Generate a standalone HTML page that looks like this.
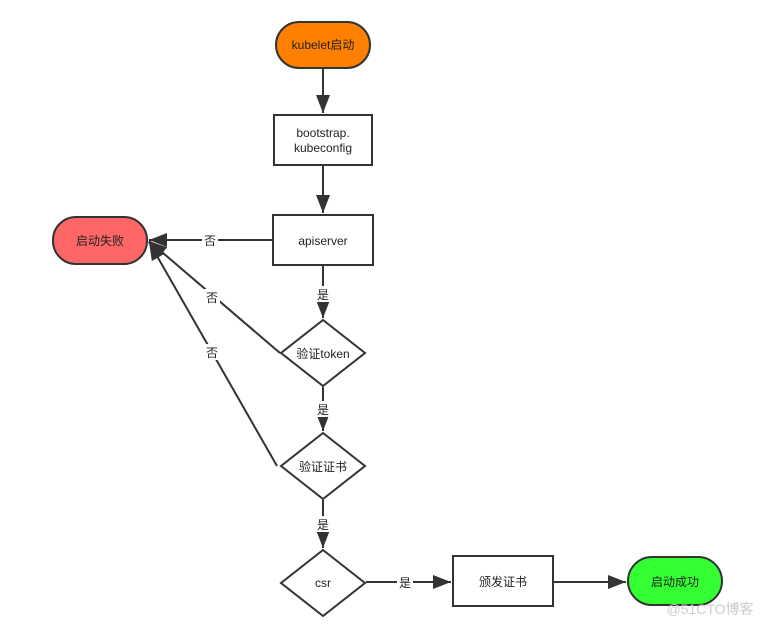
<!DOCTYPE html>
<html><head><meta charset="utf-8"><style>
html,body{margin:0;padding:0;background:#fff;}
svg{display:block;}
text{font-family:"Liberation Sans","Noto Sans CJK SC",sans-serif;font-size:12px;fill:#222;}
</style></head><body>
<svg width="769" height="627" viewBox="0 0 769 627" xmlns="http://www.w3.org/2000/svg">
<defs>
<marker id="a" markerWidth="10" markerHeight="10" refX="9" refY="5" orient="auto" markerUnits="userSpaceOnUse">
<path d="M0,0 L10,5 L0,10 Z" fill="#333"/></marker>
<marker id="b" markerWidth="20" markerHeight="14" refX="18" refY="7" orient="auto" markerUnits="userSpaceOnUse">
<path d="M0,0 L18,7 L0,14 Z" fill="#333"/></marker>
</defs>
<g stroke="#333" stroke-width="2" fill="none">
<line x1="323" y1="69" x2="323" y2="113" marker-end="url(#b)"/>
<line x1="323" y1="166" x2="323" y2="213" marker-end="url(#b)"/>
<line x1="323" y1="266" x2="323" y2="318" marker-end="url(#b)"/>
<line x1="323" y1="387" x2="323" y2="431" marker-end="url(#b)"/>
<line x1="323" y1="500" x2="323" y2="548" marker-end="url(#b)"/>
<line x1="272" y1="240" x2="149" y2="240" marker-end="url(#b)"/>
<line x1="280" y1="353" x2="149" y2="241" marker-end="url(#b)"/>
<line x1="277" y1="466" x2="149" y2="242" marker-end="url(#b)"/>
<line x1="366" y1="582" x2="451" y2="582" marker-end="url(#b)"/>
<line x1="554" y1="582" x2="626" y2="582" marker-end="url(#b)"/>
</g>
<g stroke="#333" stroke-width="2">
<rect x="276" y="22" width="94" height="46" rx="23" fill="#ff8000"/>
<rect x="274" y="115" width="98" height="50" fill="#fff"/>
<rect x="273" y="215" width="100" height="50" fill="#fff"/>
<rect x="53" y="217" width="94" height="47" rx="23" fill="#ff6666"/>
<polygon points="323,320 365,353 323,386 281,353" fill="#fff"/>
<polygon points="323,433 365,466 323,499 281,466" fill="#fff"/>
<polygon points="323,550 365,583 323,616 281,583" fill="#fff"/>
<rect x="453" y="556" width="100" height="50" fill="#fff"/>
<rect x="628" y="557" width="94" height="48" rx="24" fill="#33ff33"/>
</g>
<g text-anchor="middle">
<text x="323" y="49">kubelet启动</text>
<text x="323" y="137">bootstrap.</text>
<text x="323" y="152">kubeconfig</text>
<text x="323" y="245">apiserver</text>
<text x="100" y="245">启动失败</text>
<text x="323" y="358">验证token</text>
<text x="323" y="471">验证证书</text>
<text x="323" y="587">csr</text>
<text x="503" y="586">颁发证书</text>
<text x="675" y="586">启动成功</text>
</g>
<g text-anchor="middle">
<rect x="202" y="232" width="16" height="16" fill="#fff"/>
<text x="210" y="245">否</text>
<rect x="204" y="289" width="16" height="16" fill="#fff"/>
<text x="212" y="302">否</text>
<rect x="204" y="344" width="16" height="16" fill="#fff"/>
<text x="212" y="357">否</text>
<rect x="315" y="286" width="16" height="16" fill="#fff"/>
<text x="323" y="299">是</text>
<rect x="315" y="401" width="16" height="16" fill="#fff"/>
<text x="323" y="414">是</text>
<rect x="315" y="516" width="16" height="16" fill="#fff"/>
<text x="323" y="529">是</text>
<rect x="397" y="574" width="16" height="16" fill="#fff"/>
<text x="405" y="587">是</text>
</g>
<text x="710" y="614" text-anchor="middle" style="font-size:14px;fill:#ccc;">@51CTO博客</text>
</svg>
</body></html>
